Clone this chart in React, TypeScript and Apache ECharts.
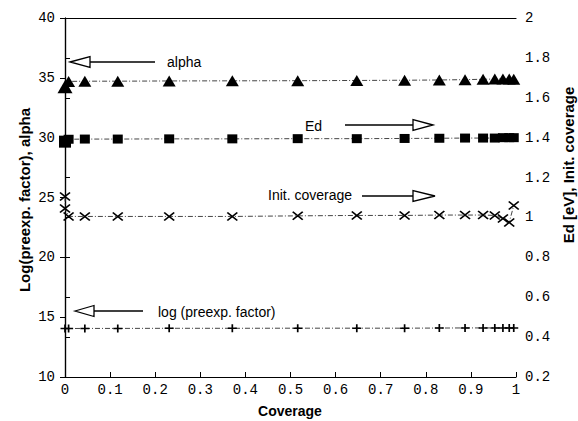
import React, { useEffect, useRef } from "react";
import * as echarts from "echarts";

// Coverage positions of the measured points
const coverage = [0, 0.008, 0.044, 0.117, 0.231, 0.371, 0.516, 0.647, 0.753, 0.83, 0.887, 0.927, 0.953, 0.971, 0.985, 0.995];
// alpha (left axis)
const alpha = [34.25, 34.7, 34.72, 34.72, 34.74, 34.75, 34.76, 34.78, 34.8, 34.82, 34.85, 34.88, 34.9, 34.9, 34.9, 34.88];
// Ed [eV] (right axis)
const ed = [1.38, 1.392, 1.393, 1.393, 1.394, 1.394, 1.395, 1.395, 1.396, 1.397, 1.398, 1.398, 1.398, 1.4, 1.4, 1.4];
// log(preexp. factor) (left axis)
const logPre = [14.05, 14.05, 14.06, 14.06, 14.07, 14.07, 14.08, 14.08, 14.08, 14.09, 14.1, 14.1, 14.1, 14.1, 14.1, 14.1];
// Initial coverage (right axis)
const initCovX = [0, 0, 0.008, 0.044, 0.117, 0.231, 0.371, 0.516, 0.647, 0.753, 0.83, 0.887, 0.927, 0.953, 0.971, 0.985, 0.995];
const initCov = [1.105, 1.045, 1.005, 1.005, 1.005, 1.005, 1.005, 1.008, 1.01, 1.01, 1.012, 1.012, 1.012, 1.01, 0.995, 0.975, 1.06];

const xTicks = { min: 0, max: 1, interval: 0.1 };
const leftTicks = { min: 10, max: 40, interval: 5 };
const rightTicks = { min: 0.2, max: 2, interval: 0.2 };

const annotations = {
  alpha: "alpha",
  ed: "Ed",
  initCov: "Init. coverage",
  logPre: "log (preexp. factor)",
};

const MONO = "'Liberation Mono', 'DejaVu Sans Mono', monospace";
const SANS = "'Liberation Sans', Arial, sans-serif";

function zip(xs: number[], ys: number[]) {
  return xs.map((x, i) => [x, ys[i]]);
}

function arrow(x1: number, x2: number, y: number, headLen: number, dir: "left" | "right") {
  const half = 5.5;
  const base = dir === "left" ? x2 + headLen : x2 - headLen;
  return [
    {
      type: "line",
      shape: { x1, y1: y, x2: base, y2: y },
      style: { stroke: "#000", lineWidth: 1.3 },
    },
    {
      type: "polygon",
      shape: { points: [[x2, y], [base, y - half], [base, y + half]] },
      style: { fill: "#fff", stroke: "#000", lineWidth: 1.3 },
    },
  ];
}

function labelText(x: number, y: number, text: string) {
  return {
    type: "text",
    x,
    y,
    style: { text, font: `14px ${SANS}`, fill: "#000", textAlign: "left", textVerticalAlign: "middle" },
  };
}

const lineStyle = { color: "#444", width: 1, type: [5, 2, 1, 2] as any };

export default function App() {
  const ref = useRef<HTMLDivElement>(null);
  useEffect(() => {
    document.body.style.margin = "0";
    const chart = echarts.init(ref.current!, null, { renderer: "svg" });
    const axisLine = { show: true, lineStyle: { color: "#000", width: 1.2 } };
    const option: any = {
      animation: false,
      backgroundColor: "#fff",
      grid: { left: 65, right: 62, top: 18, bottom: 44 },
      xAxis: [
        {
          type: "value",
          position: "bottom",
          ...xTicks,
          axisLine,
          axisTick: { show: true, inside: true, length: 5, lineStyle: { color: "#000" } },
          axisLabel: { margin: 6, fontFamily: MONO, fontSize: 14, color: "#000" },
          splitLine: { show: false },
        },
        {
          type: "value",
          position: "top",
          ...xTicks,
          axisLine,
          axisTick: { show: false },
          axisLabel: { show: false },
          splitLine: { show: false },
        },
      ],
      yAxis: [
        {
          type: "value",
          position: "left",
          ...leftTicks,
          axisLine,
          axisTick: { show: true, inside: false, length: 5, lineStyle: { color: "#000" } },
          axisLabel: { margin: 10, fontFamily: MONO, fontSize: 14, color: "#000" },
          splitLine: { show: false },
        },
        {
          type: "value",
          position: "right",
          ...rightTicks,
          axisLine,
          axisTick: { show: true, inside: false, length: 5, lineStyle: { color: "#000" } },
          axisLabel: { margin: 9, fontFamily: MONO, fontSize: 14, color: "#000" },
          splitLine: { show: false },
        },
      ],
      series: [
        {
          name: "alpha",
          type: "line",
          yAxisIndex: 0,
          data: zip(coverage, alpha),
          symbol: "triangle",
          symbolSize: (_v: any, p: any) => (p.dataIndex === 0 ? [15, 13] : [13, 11]),
          itemStyle: { color: "#000" },
          lineStyle,
        },
        {
          name: "Ed",
          type: "line",
          yAxisIndex: 1,
          data: zip(coverage, ed),
          symbol: "rect",
          symbolSize: (_v: any, p: any) => (p.dataIndex === 0 ? 12 : [10, 9]),
          itemStyle: { color: "#000" },
          lineStyle,
        },
        {
          name: "Init. coverage",
          type: "line",
          yAxisIndex: 1,
          data: zip(initCovX, initCov),
          symbol: "path://M0,0L10,8M10,0L0,8",
          symbolSize: [10, 8],
          itemStyle: { color: "transparent", borderColor: "#000", borderWidth: 1.6 },
          lineStyle,
        },
        {
          name: "log (preexp. factor)",
          type: "line",
          yAxisIndex: 0,
          data: zip(coverage, logPre),
          symbol: "path://M5,0L5,8M0,4L10,4",
          symbolSize: [9, 8],
          itemStyle: { color: "transparent", borderColor: "#000", borderWidth: 1.6 },
          lineStyle,
        },
      ],
      graphic: [
        ...arrow(155, 70, 62, 20, "left"),
        labelText(167, 62, annotations.alpha),
        labelText(305, 126, annotations.ed),
        ...arrow(345, 433, 125, 20, "right"),
        labelText(268, 195, annotations.initCov),
        ...arrow(362, 435, 196, 22, "right"),
        ...arrow(143, 75, 311, 19, "left"),
        labelText(158, 312, annotations.logPre),
        {
          type: "text",
          x: 290,
          y: 411,
          style: { text: "Coverage", font: `bold 14px ${SANS}`, fill: "#000", textAlign: "center", textVerticalAlign: "middle" },
        },
        {
          type: "text",
          x: 24,
          y: 200,
          rotation: Math.PI / 2,
          style: { text: "Log(preexp. factor), alpha", font: `bold 15px ${SANS}`, fill: "#000", textAlign: "center", textVerticalAlign: "middle" },
        },
        {
          type: "text",
          x: 568,
          y: 165,
          rotation: Math.PI / 2,
          style: { text: "Ed [eV], Init. coverage", font: `bold 15px ${SANS}`, fill: "#000", textAlign: "center", textVerticalAlign: "middle" },
        },
      ],
    };
    chart.setOption(option);
    return () => chart.dispose();
  }, []);
  return <div ref={ref} style={{ width: 578, height: 421 }} />;
}
